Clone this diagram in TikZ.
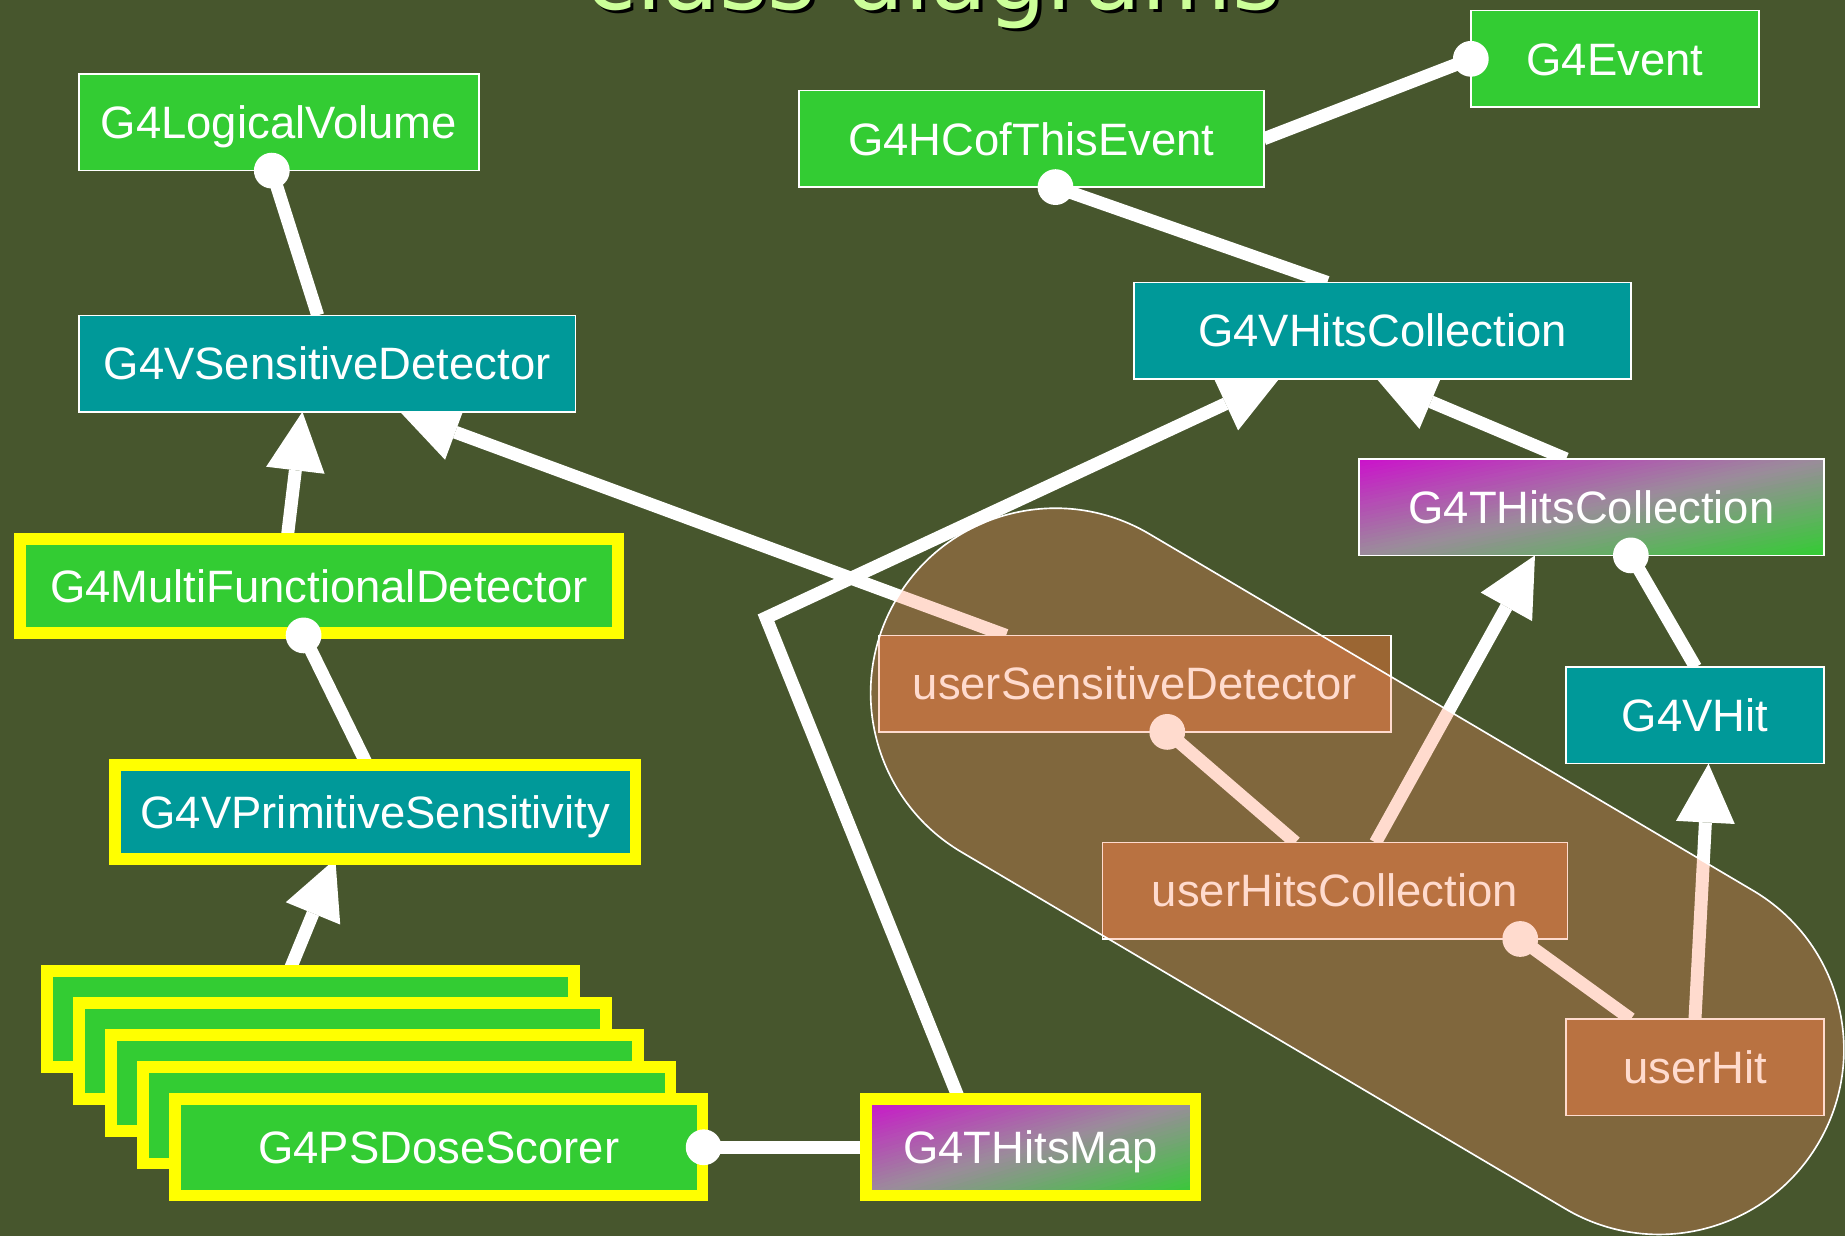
\documentclass[tikz,border=0pt]{standalone}
\usepackage{fontspec}
\setmainfont{Liberation Sans}
\newfontfamily\titlefont{DejaVu Sans}
\usetikzlibrary{arrows.meta,calc,backgrounds}
\definecolor{bgcol}{RGB}{71,86,45}
\definecolor{g4green}{RGB}{51,204,51}
\definecolor{g4teal}{RGB}{0,153,153}
\definecolor{g4brown}{RGB}{155,102,51}
\definecolor{g4yellow}{RGB}{255,255,0}
\definecolor{g4mag}{RGB}{204,17,204}
\definecolor{g4grey}{RGB}{155,140,155}
\definecolor{titlecol}{RGB}{204,255,153}
\definecolor{blobcol}{RGB}{255,142,99}
\newcommand\myGradFill[1]{%
  \begin{scope}[shift={(#1.north west)},
     x={($(#1.north east)-(#1.north west)$)},
     y={($(#1.south west)-(#1.north west)$)}]
    \clip (0,0) rectangle (1,1);
    \foreach \i in {0,...,49}{%
      \pgfmathtruncatemacro\pa{mod(\i,25)*4+2}%
      \ifnum\i<25 \def\cc{g4grey!\pa!g4mag}\else\def\cc{g4green!\pa!g4grey}\fi
      \fill[\cc] ({\i/25+2},-2) -- ({\i/25-2},2) -- ({(\i+1.2)/25-2},2) -- ({(\i+1.2)/25+2},-2) -- cycle;
    }%
  \end{scope}}
\begin{document}
\begin{tikzpicture}[x=0.5pt,y=-0.5pt,
  box/.style={draw=white, line width=0.7pt, text=white, inner sep=0pt, outer sep=0pt,
    font=\fontsize{19.3}{22}\selectfont, text height=13.8pt, text depth=0pt, minimum height=41pt},
  greenbox/.style={box, fill=g4green},
  tealbox/.style={box, fill=g4teal},
  userbox/.style={box, fill=g4brown},
  yellowbox/.style={draw=g4yellow, line width=5pt},
  gradbox/.style={box},
  conn/.style={draw=white, line width=5.5pt},
  inh/.style={conn, -{Triangle[length=25pt,width=25pt,line width=0pt]}},
  blobshape/.style={rectangle, rounded corners=78.4pt, minimum width=454.9pt, minimum height=157pt,
    rotate=-30.57, inner sep=0pt, outer sep=0pt},
  titletext/.style={anchor=base, font=\titlefont\fontsize{39.5}{41}\selectfont},
]
\useasboundingbox (0,0) rectangle (1568,1050);

% title (cut off at top)
\node[titletext, text=black] (titleshadow) at (796,11) {class diagrams};
\node[titletext, text=titlecol] (title) at (793,8) {class diagrams};

% class boxes
\node[greenbox, minimum width=170pt] (lv) at (237,104) {G4LogicalVolume};
\node[tealbox, minimum width=211pt] (vsd) at (278,309) {G4VSensitiveDetector};
\node[greenbox, yellowbox, minimum width=254pt, minimum height=40pt] (mfd) at (271,498) {G4MultiFunctionalDetector};
\node[tealbox, yellowbox, minimum width=221pt, minimum height=40pt] (vps) at (319,690) {G4VPrimitiveSensitivity};
\node[greenbox, yellowbox, minimum width=224pt] (s0) at (264,866) {};
\node[greenbox, yellowbox, minimum width=224pt] (s1) at (291.25,893.25) {};
\node[greenbox, yellowbox, minimum width=224pt] (s2) at (318.5,920.5) {};
\node[greenbox, yellowbox, minimum width=224pt] (s3) at (345.75,947.75) {};
\node[greenbox, yellowbox, minimum width=224pt] (s4) at (373,975) {G4PSDoseScorer};
\node[gradbox, yellowbox, minimum width=140pt] (map) at (876,975) {G4THitsMap};
\node[greenbox, minimum width=197.5pt] (hc) at (876.5,118) {G4HCofThisEvent};
\node[greenbox, minimum width=122.5pt] (ev) at (1372.5,50) {G4Event};
\node[tealbox, minimum width=211pt] (vhc) at (1175,281) {G4VHitsCollection};
\node[gradbox, minimum width=197.5pt] (thc) at (1352.5,431) {G4THitsCollection};
\node[tealbox, minimum width=109.5pt] (vhit) at (1440.5,608) {G4VHit};
\node[userbox, minimum width=217.5pt] (usd) at (964.5,581) {userSensitiveDetector};
\node[userbox, minimum width=197.5pt] (uhc) at (1134.5,757) {userHitsCollection};
\node[userbox, minimum width=109.5pt] (uhit) at (1440.5,907) {userHit};

% connectors (under the boxes)
\begin{scope}[on background layer]
  \fill[bgcol] (0,0) rectangle (1568,1050);
  \coordinate (d1) at ($(lv.south)+(-6,0)$);
  \coordinate (d2) at ($(mfd.south)+(-13,2)$);
  \coordinate (d3) at ($(s4.east)+(1,0)$);
  \coordinate (d4) at ($(hc.south)+(20.5,0)$);
  \coordinate (d5) at (ev.west);
  \coordinate (d6) at ($(thc.south)+(33.5,0)$);
  \coordinate (d7) at ($(usd.south)+(27.5,0)$);
  \coordinate (d8) at ($(uhc.south)+(157.5,0)$);
  \coordinate (bend) at (651,525);
  \draw[conn] (d1) -- ($(vsd.north)+(-8,0)$);
  \draw[inh] ($(mfd.north)+(-27,0)$) -- ($(vsd.south)+(-21,0)$);
  \draw[conn] (d2) -- ($(vps.north)+(-7,0)$);
  \draw[inh] ($(s0.north)+(-18,0)$) -- ($(vps.south)+(-34,0)$);
  \draw[conn] (d3) -- (map.west);
  \draw[inh] ($(map.north)+(-61,0)$) -- (bend) -- ($(vhc.south)+(-88,0)$);
  \draw[inh] ($(usd.north)+(-109.5,0)$) -- ($(vsd.south)+(62,0)$);
  \draw[conn] (d4) -- ($(vhc.north)+(-47,0)$);
  \draw[conn] (d5) -- (hc.east);
  \draw[inh] ($(thc.north)+(-21.5,0)$) -- ($(vhc.south)+(-5,0)$);
  \draw[conn] (d6) -- ($(vhit.north)+(0.5,0)$);
  \draw[inh] ($(uhc.north)+(34.5,0)$) -- ($(thc.south)+(-48,0)$);
  \draw[conn] (d7) -- ($(uhc.north)+(-33.5,0)$);
  \draw[conn] (d8) -- ($(uhit.north)+(-54.5,0)$);
  \draw[inh] (uhit.north) -- ($(vhit.south)+(11.5,0)$);
  % diagonal gradient fill of the template classes
  \myGradFill{thc}
  \myGradFill{map}
\end{scope}

% aggregation dots (over the boxes)
\foreach \d in {d1,d2,d3,d4,d5,d6,d7,d8}
  \fill[white] (\d) circle[radius=7.6pt];

% translucent user region
\node[blobshape, fill=blobcol, fill opacity=0.31] (blob) at (1153.5,740.5) {};
\node[blobshape, draw=white, line width=0.7pt] (blobline) at (1153.5,740.5) {};
\end{tikzpicture}
\end{document}
